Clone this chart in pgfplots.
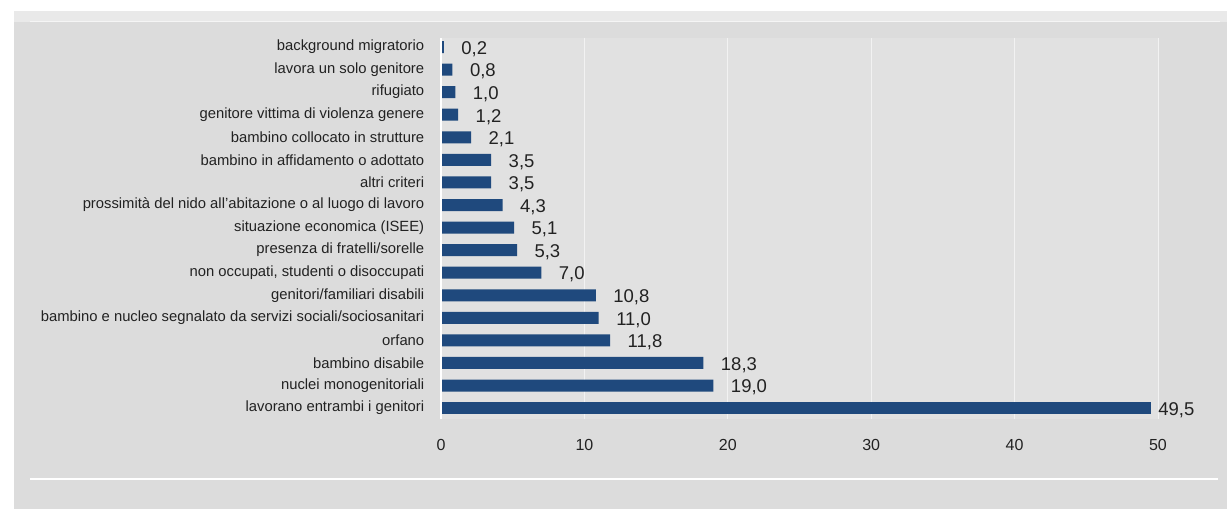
\documentclass[border=0pt]{standalone}
\usepackage{pgfplots}
\pgfplotsset{compat=1.18}
\usepackage{fontspec}
\setmainfont{Liberation Sans}
\definecolor{barblue}{HTML}{1F497D}
\definecolor{panel}{HTML}{DCDCDC}
\definecolor{plotbg}{HTML}{E1E1E1}
\definecolor{band}{HTML}{E9E9E9}
\definecolor{txt}{HTML}{222222}
\begin{document}
\begin{tikzpicture}[x=1pt,y=1pt]
\fill[white] (0,0) rectangle (1227,509);
\fill[panel] (14,0) rectangle (1227,498);
\fill[band] (14,487) rectangle (1227,498);
\draw[white!70!panel, line width=1pt] (30,487) -- (1220,487);
\draw[white, line width=2pt] (30,30) -- (1218,30);
\begin{axis}[
  at={(441pt,90.5pt)}, anchor=south west,
  scale only axis, width=717pt, height=380.5pt,
  xmin=0, xmax=50, ymin=-0.46, ymax=16.4,
  xbar, bar width=12pt, bar shift=0pt,
  axis background/.style={fill=plotbg},
  axis line style={draw=none},
  tick style={draw=none},
  xmajorgrids, major grid style={draw=white!55!plotbg, line width=0.8pt},
  xtick={0,10,20,30,40,50},
  ytick={0,...,16},
  yticklabels={lavorano entrambi i genitori, nuclei monogenitoriali, bambino disabile, orfano,
    bambino e nucleo segnalato da servizi sociali/sociosanitari, genitori/familiari disabili,
    {non occupati, studenti o disoccupati}, presenza di fratelli/sorelle, situazione economica (ISEE),
    prossimità del nido all'abitazione o al luogo di lavoro, altri criteri,
    bambino in affidamento o adottato, bambino collocato in strutture,
    genitore vittima di violenza genere, rifugiato, lavora un solo genitore, background migratorio},
  yticklabel style={font=\fontsize{14.8}{15}\selectfont, text=txt, xshift=-9pt},
  xticklabel style={font=\fontsize{16}{16}\selectfont, text=txt, yshift=-17pt},
  /pgf/number format/assume math mode=true,
  clip=false,
  nodes near coords={\pgfmathprintnumber[fixed,fixed zerofill,precision=1,use comma]{\pgfplotspointmeta}},
  nodes near coords style={font=\fontsize{18.5}{18.5}\selectfont, text=txt, anchor=west, xshift=14pt, yshift=-2pt},
]
\addplot[fill=barblue, draw=none] coordinates {
(19.0,1) (18.3,2) (11.8,3) (11.0,4) (10.8,5) (7.0,6) (5.3,7) (5.1,8) (4.3,9)
(3.5,10) (3.5,11) (2.1,12) (1.2,13) (1.0,14) (0.8,15) (0.2,16)};
\addplot[fill=barblue, draw=none, nodes near coords style={xshift=-10pt}] coordinates {(49.5,0)};
\draw[white, line width=1.5pt] (axis cs:0,-0.46) -- (axis cs:0,16.4);
\end{axis}
\end{tikzpicture}
\end{document}
